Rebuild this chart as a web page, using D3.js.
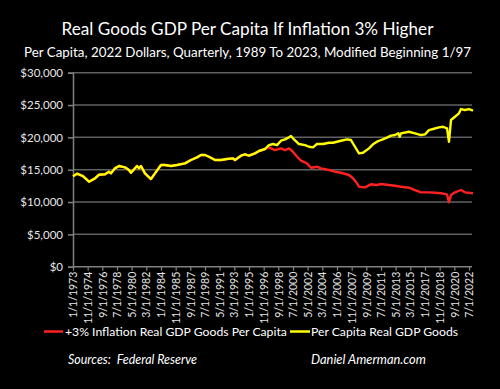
<!DOCTYPE html>
<html>
<head>
<meta charset="utf-8">
<script src="https://cdn.jsdelivr.net/npm/d3@7"></script>
<style>
  html, body { margin: 0; padding: 0; background: #000; }
  svg { display: block; }
</style>
</head>
<body>
<svg id="chart" width="500" height="389"></svg>
<script>
// ---------- DATA ----------
const tickLabels = ["1/1/1973","11/1/1974","9/1/1976","7/1/1978","5/1/1980","3/1/1982","1/1/1984","11/1/1985",
  "9/1/1987","7/1/1989","5/1/1991","3/1/1993","1/1/1995","11/1/1996","9/1/1998","7/1/2000","5/1/2002",
  "3/1/2004","1/1/2006","11/1/2007","9/1/2009","7/1/2011","5/1/2013","3/1/2015","1/1/2017","11/1/2018",
  "9/1/2020","7/1/2022"];

const yellowDates = ["1/1/1973","7/1/1973","4/1/1974","1/1/1975","10/1/1975","4/1/1976","1/1/1977","7/1/1977",
  "10/1/1977","4/1/1978","10/1/1978","7/1/1979","1/1/1980","4/1/1980","1/1/1981","4/1/1981","7/1/1981",
  "1/1/1982","10/1/1982","4/1/1983","1/1/1984","7/1/1984","4/1/1985","1/1/1986","1/1/1987","10/1/1987",
  "7/1/1988","1/1/1989","7/1/1989","1/1/1990","10/1/1990","7/1/1991","4/1/1992","1/1/1993","4/1/1993",
  "1/1/1994","7/1/1994","1/1/1995","10/1/1995","4/1/1996","1/1/1997","7/1/1997","1/1/1998","7/1/1998",
  "1/1/1999","7/1/1999","1/1/2000","4/1/2000","7/1/2000","4/1/2001","1/1/2002","7/1/2002","1/1/2003",
  "7/1/2003","4/1/2004","1/1/2005","7/1/2005","7/1/2006","4/1/2007","10/1/2007","4/1/2008","10/1/2008",
  "4/1/2009","1/1/2010","7/1/2010","1/1/2011","7/1/2011","4/1/2012","10/1/2012","4/1/2013","9/1/2013",
  "11/1/2013","1/1/2014","1/1/2015","10/1/2015","7/1/2016","1/1/2017","7/1/2017","1/1/2018","10/1/2018",
  "4/1/2019","10/1/2019","1/1/2020","4/1/2020","10/1/2020","4/1/2021","7/1/2021","1/1/2022","7/1/2022","1/1/2023"];
const yellowValues = [14000,14380,14020,13140,13660,14220,14290,14690,
  14440,15210,15570,15370,14950,14530,15570,15210,15570,
  14440,13560,14440,15720,15720,15570,15720,15980,16500,
  16910,17270,17270,17000,16500,16500,16650,16760,16500,
  17160,17380,17160,17530,17890,18200,18810,18970,18810,
  19480,19700,20000,20210,19850,18970,18810,18550,18460,
  18970,18970,19170,19170,19480,19700,19590,18550,17530,
  17620,18300,18920,19330,19590,19950,20260,20360,20620,
  20100,20620,20870,20620,20360,20470,21130,21290,21550,
  21640,21390,19330,22680,23190,23720,24380,24230,24380,24120];

const redDates = ["1/1/1973","7/1/1973","4/1/1974","1/1/1975","10/1/1975","4/1/1976","1/1/1977","7/1/1977",
  "10/1/1977","4/1/1978","10/1/1978","7/1/1979","1/1/1980","4/1/1980","1/1/1981","4/1/1981","7/1/1981",
  "1/1/1982","10/1/1982","4/1/1983","1/1/1984","7/1/1984","4/1/1985","1/1/1986","1/1/1987","10/1/1987",
  "7/1/1988","1/1/1989","7/1/1989","1/1/1990","10/1/1990","7/1/1991","4/1/1992","1/1/1993","4/1/1993",
  "1/1/1994","7/1/1994","1/1/1995","10/1/1995","4/1/1996","1/1/1997","7/1/1997","4/1/1998","1/1/1999",
  "7/1/1999","1/1/2000","7/1/2000","1/1/2001","7/1/2001","4/1/2002","10/1/2002","7/1/2003","1/1/2004",
  "1/1/2005","10/1/2005","7/1/2006","7/1/2007","1/1/2008","7/1/2008","10/1/2008","7/1/2009","4/1/2010",
  "1/1/2011","7/1/2011","7/1/2012","4/1/2013","1/1/2014","1/1/2015","10/1/2015","7/1/2016","7/1/2017",
  "4/1/2018","1/1/2019","10/1/2019","1/1/2020","4/1/2020","10/1/2020","7/1/2021","1/1/2022","1/1/2023"];
const redValues = [14000,14380,14020,13140,13660,14220,14290,14690,
  14440,15210,15570,15370,14950,14530,15570,15210,15570,
  14440,13560,14440,15720,15720,15570,15720,15980,16500,
  16910,17270,17270,17000,16500,16500,16650,16760,16500,
  17160,17380,17160,17530,17890,18200,18460,18040,18300,
  18040,18300,17780,17000,16390,15980,15310,15460,15210,
  14950,14690,14530,14180,13670,12890,12370,12270,12740,
  12630,12790,12630,12520,12370,12210,11860,11500,11500,
  11440,11350,11190,9960,11080,11500,11860,11500,11350];

const yTicks = [0,5000,10000,15000,20000,25000,30000];
const seriesNames = ["+3% Inflation Real GDP Goods Per Capita","Per Capita Real GDP Goods"];
const seriesColors = ["#ff2121","#ffff00"];

// ---------- CHART ----------
const svg = d3.select("#chart");
const parse = d3.timeParse("%m/%d/%Y");
const X0 = 73, X1 = 472, YT = 72.7, YB = 266.7;

svg.append("rect").attr("width",500).attr("height",389).attr("fill","#000");

const x = d3.scaleTime().domain([parse("1/1/1973"), parse("1/1/2023")]).range([X0, 473]);
const y = d3.scaleLinear().domain([0,30000]).range([YB, YT]);

function fit(sel, target) {
  let fs = parseFloat(sel.attr("font-size"));
  const w = sel.node().getComputedTextLength();
  if (w > 0) sel.attr("font-size", (fs * target / w).toFixed(2));
}

const font = "Lato, 'Open Sans', sans-serif";

// Titles
const t1 = svg.append("text").attr("x",247.5).attr("y",35).attr("text-anchor","middle")
  .attr("fill","#fff").attr("font-family",font).attr("font-size",18)
  .text("Real Goods GDP Per Capita If Inflation 3% Higher");
fit(t1, 372);
const t2 = svg.append("text").attr("x",247.5).attr("y",56.5).attr("text-anchor","middle")
  .attr("fill","#fff").attr("font-family",font).attr("font-size",14)
  .text("Per Capita, 2022 Dollars, Quarterly, 1989 To 2023, Modified Beginning 1/97");
fit(t2, 447);

// Gridlines
svg.append("g").selectAll("line").data(yTicks.filter(d=>d>0)).join("line")
  .attr("x1",X0).attr("x2",X1).attr("y1",d=>y(d)).attr("y2",d=>y(d))
  .attr("stroke","#606060").attr("stroke-width",1.5);

// Y axis
const yAxis = d3.axisLeft(y).tickValues(yTicks).tickSize(5).tickPadding(5)
  .tickFormat(d => "$" + d3.format(",")(d));
const gy = svg.append("g").attr("transform",`translate(${X0},0)`).call(yAxis);
gy.select(".domain").attr("stroke","#808080").attr("stroke-width",1.5);
gy.selectAll(".tick line").attr("stroke","#808080").attr("stroke-width",1.5);
gy.selectAll(".tick text").attr("fill","#e6e6e6").attr("font-family",font).attr("font-size",11.5);

// X axis
const xAxis = d3.axisBottom(x).tickValues(tickLabels.map(parse)).tickSize(4).tickPadding(3)
  .tickFormat(d => d3.timeFormat("%-m/%-d/%Y")(d));
const gx = svg.append("g").attr("transform",`translate(0,${YB})`).call(xAxis);
gx.select(".domain").attr("d",`M${X0},0H${X1}`).attr("stroke","#808080").attr("stroke-width",1.5);
gx.selectAll(".tick line").attr("stroke","#808080").attr("stroke-width",1.2);
gx.selectAll(".tick text").attr("fill","#e6e6e6").attr("font-family",font).attr("font-size",10.5)
  .attr("text-anchor","end").attr("dy","0.35em")
  .attr("transform","translate(0,5) rotate(-90)").attr("x",0).attr("y",0);

// Lines
const line = d3.line().x(d=>x(d[0])).y(d=>y(d[1]));
const redData = redDates.map((d,i)=>[parse(d), redValues[i]]);
const yellowData = yellowDates.map((d,i)=>[parse(d), yellowValues[i]]);
svg.append("path").datum(redData).attr("d",line).attr("fill","none")
  .attr("stroke",seriesColors[0]).attr("stroke-width",2.4).attr("stroke-linejoin","round");
svg.append("path").datum(yellowData).attr("d",line).attr("fill","none")
  .attr("stroke",seriesColors[1]).attr("stroke-width",2.4).attr("stroke-linejoin","round");

// Legend
const legY = 331.5;
svg.append("line").attr("x1",44).attr("x2",63).attr("y1",legY).attr("y2",legY)
  .attr("stroke",seriesColors[0]).attr("stroke-width",2.5);
const l1 = svg.append("text").attr("x",65).attr("y",legY).attr("dy","0.35em").attr("fill","#fff")
  .attr("font-family",font).attr("font-size",13).text(seriesNames[0]);
fit(l1, 222);
svg.append("line").attr("x1",290).attr("x2",310).attr("y1",legY).attr("y2",legY)
  .attr("stroke",seriesColors[1]).attr("stroke-width",2.5);
const l2 = svg.append("text").attr("x",311).attr("y",legY).attr("dy","0.35em").attr("fill","#fff")
  .attr("font-family",font).attr("font-size",13).text(seriesNames[1]);
fit(l2, 147);

// Sources
const s1 = svg.append("text").attr("x",68).attr("y",364).attr("fill","#fff")
  .attr("font-family",font).attr("font-style","italic").attr("font-size",13)
  .attr("xml:space","preserve").style("white-space","pre").text("Sources:  Federal Reserve");
fit(s1, 129);
const s2 = svg.append("text").attr("x",311).attr("y",364).attr("fill","#fff")
  .attr("font-family",font).attr("font-style","italic").attr("font-size",13)
  .text("Daniel Amerman.com");
fit(s2, 115);
</script>
</body>
</html>
